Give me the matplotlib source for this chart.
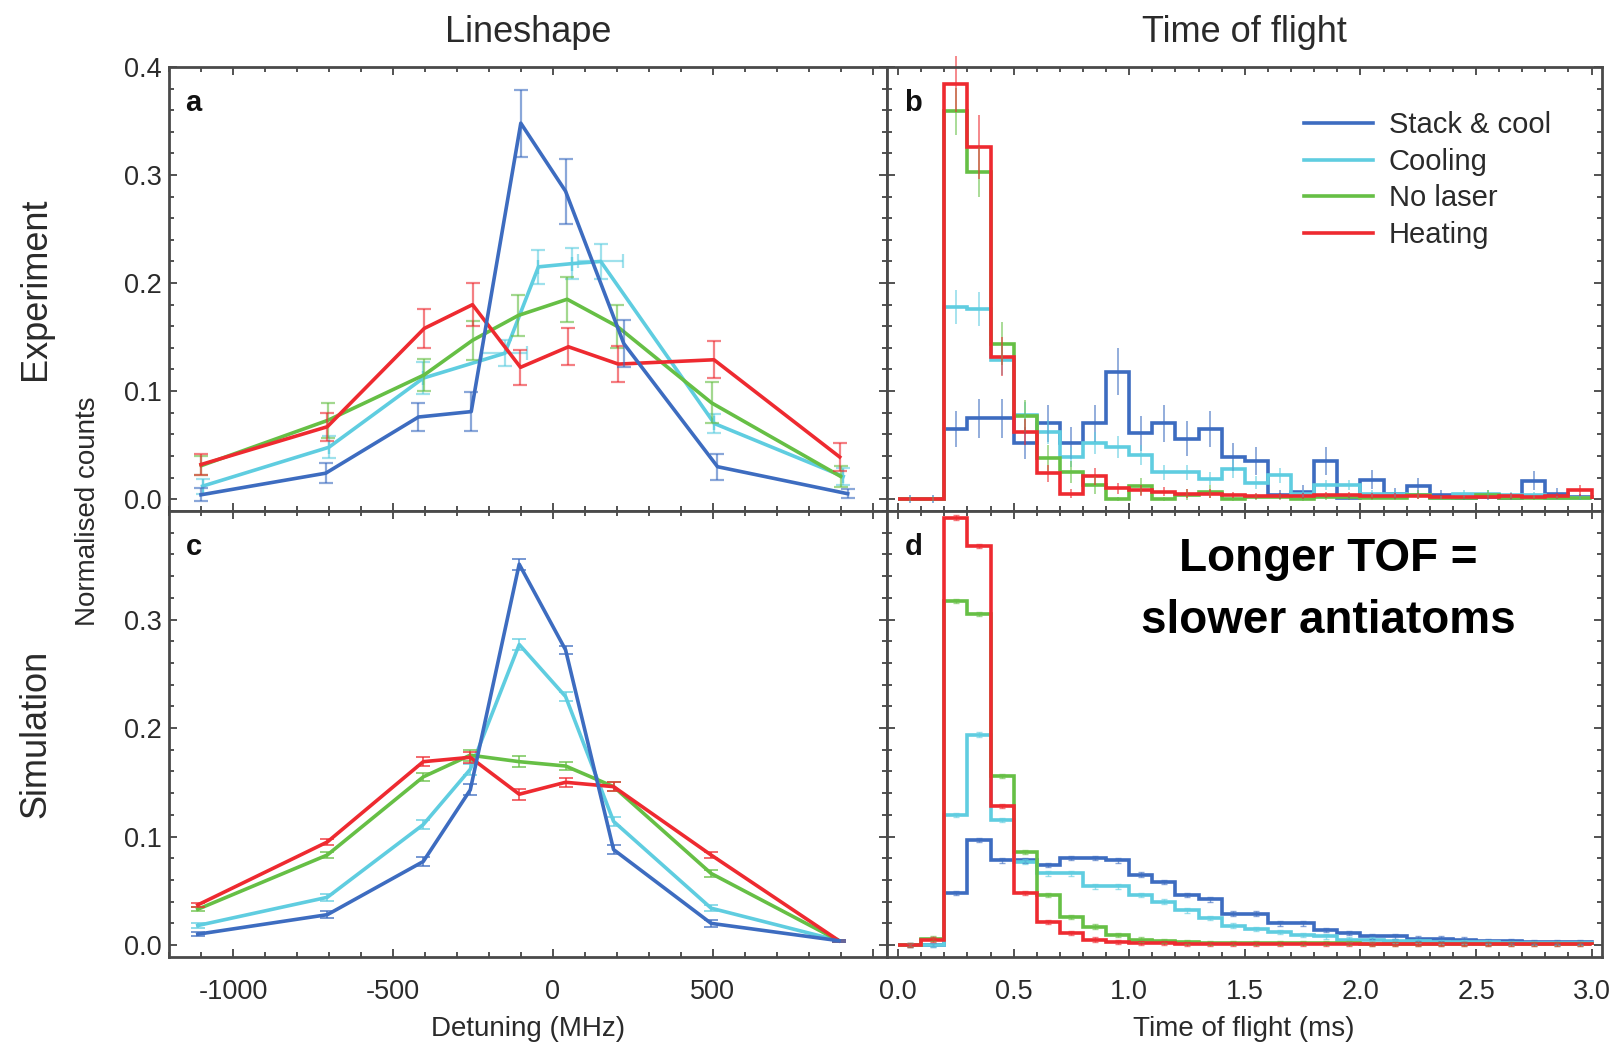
import numpy as np
import matplotlib
matplotlib.use('Agg')
import matplotlib.pyplot as plt
from matplotlib.ticker import MultipleLocator, FixedLocator

plt.rcParams['font.family'] = ['Liberation Sans', 'DejaVu Sans']
plt.rcParams['axes.unicode_minus'] = False

# colours of the four runs
C_BLUE = '#3d6cc0'
C_CYAN = '#5fcde0'
C_GREEN = '#66bf45'
C_RED = '#ee2a30'
C_TXT = '#2a2a2a'

LABELS = ['Stack & cool', 'Cooling', 'No laser', 'Heating']

# ---- lineshape, experiment (a) ----
A_X_BLUE = [-1100, -710, -420, -255, -100, 40, 222, 515, 922]
A_BLUE = [0.004, 0.024, 0.076, 0.081, 0.348, 0.285, 0.144, 0.030, 0.005]
A_BLUE_ERR = [0.006, 0.009, 0.013, 0.018, 0.031, 0.030, 0.022, 0.012, 0.004]

A_X_CYAN = [-1095, -700, -405, -150, -45, 60, 150, 505, 908]
A_CYAN = [0.012, 0.048, 0.112, 0.135, 0.215, 0.218, 0.220, 0.070, 0.021]
A_CYAN_ERR = [0.007, 0.010, 0.015, 0.012, 0.016, 0.014, 0.016, 0.009, 0.008]
A_CYAN_XERR = [0, 0, 0, 70, 0, 0, 70, 0, 0]

A_X_GREEN = [-1099, -703, -402, -251, -108, 45, 201, 497, 900]
A_GREEN = [0.031, 0.073, 0.115, 0.147, 0.170, 0.185, 0.160, 0.089, 0.021]
A_GREEN_ERR = [0.009, 0.016, 0.015, 0.018, 0.019, 0.021, 0.020, 0.019, 0.010]

A_X_RED = [-1100, -705, -402, -251, -101, 49, 205, 504, 897]
A_RED = [0.032, 0.067, 0.158, 0.180, 0.122, 0.141, 0.125, 0.129, 0.039]
A_RED_ERR = [0.010, 0.013, 0.018, 0.020, 0.016, 0.017, 0.017, 0.017, 0.013]

# ---- lineshape, simulation (c) ----
C_X = [-1110, -705, -405, -258, -105, 40, 190, 495, 895]
C_BLUE_V = [0.010, 0.028, 0.077, 0.143, 0.351, 0.272, 0.088, 0.020, 0.004]
C_CYAN_V = [0.018, 0.044, 0.111, 0.162, 0.277, 0.229, 0.114, 0.034, 0.004]
C_GREEN_V = [0.033, 0.083, 0.155, 0.175, 0.169, 0.165, 0.146, 0.066, 0.004]
C_RED_V = [0.037, 0.095, 0.169, 0.173, 0.139, 0.150, 0.146, 0.083, 0.004]
C_ERR = [0.002, 0.003, 0.004, 0.005, 0.005, 0.004, 0.004, 0.003, 0.001]

# ---- time of flight histograms (b: experiment, d: simulation) ----
TOF_EDGES = np.linspace(0.0, 3.0, 31)

B_BLUE = [0.000, 0.000, 0.065, 0.075, 0.075, 0.052, 0.070, 0.052, 0.070, 0.118,
          0.061, 0.070, 0.056, 0.065, 0.039, 0.035, 0.004, 0.007, 0.035, 0.001,
          0.018, 0.005, 0.012, 0.004, 0.001, 0.002, 0.001, 0.017, 0.005, 0.002]
B_BLUE_ERR = [0.004, 0.004, 0.017, 0.018, 0.018, 0.015, 0.017, 0.015, 0.017, 0.022,
              0.016, 0.017, 0.016, 0.017, 0.013, 0.013, 0.004, 0.006, 0.013, 0.002,
              0.009, 0.005, 0.008, 0.004, 0.002, 0.003, 0.002, 0.009, 0.005, 0.003]
B_CYAN = [0.000, 0.000, 0.178, 0.176, 0.129, 0.078, 0.062, 0.039, 0.052, 0.048,
          0.041, 0.025, 0.025, 0.019, 0.028, 0.015, 0.022, 0.005, 0.013, 0.013,
          0.005, 0.005, 0.004, 0.001, 0.005, 0.005, 0.004, 0.004, 0.001, 0.001]
B_CYAN_ERR = [0.003, 0.003, 0.016, 0.016, 0.014, 0.012, 0.011, 0.009, 0.010, 0.010,
              0.009, 0.007, 0.007, 0.006, 0.008, 0.006, 0.007, 0.003, 0.005, 0.005,
              0.003, 0.003, 0.003, 0.002, 0.003, 0.003, 0.003, 0.003, 0.002, 0.002]
B_GREEN = [0.000, 0.000, 0.359, 0.303, 0.144, 0.077, 0.038, 0.025, 0.013, 0.000,
           0.012, 0.000, 0.004, 0.007, 0.000, 0.002, 0.002, 0.000, 0.002, 0.002,
           0.001, 0.001, 0.004, 0.001, 0.001, 0.004, 0.001, 0.001, 0.001, 0.001]
B_GREEN_ERR = [0.002, 0.002, 0.022, 0.023, 0.020, 0.015, 0.012, 0.010, 0.008, 0.002,
               0.008, 0.002, 0.005, 0.006, 0.002, 0.003, 0.003, 0.002, 0.003, 0.003,
               0.002, 0.002, 0.004, 0.002, 0.002, 0.004, 0.002, 0.002, 0.002, 0.002]
B_RED = [0.000, 0.000, 0.384, 0.326, 0.132, 0.062, 0.024, 0.005, 0.021, 0.010,
         0.008, 0.007, 0.005, 0.005, 0.004, 0.003, 0.003, 0.003, 0.004, 0.004,
         0.003, 0.003, 0.003, 0.002, 0.002, 0.002, 0.003, 0.002, 0.003, 0.008]
B_RED_ERR = [0.002, 0.002, 0.026, 0.030, 0.018, 0.012, 0.008, 0.004, 0.008, 0.005,
             0.005, 0.004, 0.004, 0.004, 0.003, 0.003, 0.003, 0.003, 0.003, 0.003,
             0.003, 0.003, 0.003, 0.002, 0.002, 0.002, 0.003, 0.002, 0.003, 0.005]

D_BLUE = [0.000, 0.000, 0.048, 0.097, 0.078, 0.078, 0.074, 0.080, 0.080, 0.078,
          0.065, 0.058, 0.046, 0.042, 0.029, 0.029, 0.020, 0.020, 0.014, 0.011,
          0.008, 0.008, 0.006, 0.006, 0.005, 0.004, 0.004, 0.003, 0.003, 0.003]
D_CYAN = [0.000, 0.000, 0.120, 0.194, 0.115, 0.077, 0.066, 0.066, 0.054, 0.054,
          0.046, 0.040, 0.032, 0.025, 0.018, 0.015, 0.012, 0.009, 0.008, 0.005,
          0.005, 0.004, 0.004, 0.003, 0.003, 0.003, 0.002, 0.002, 0.002, 0.002]
D_GREEN = [0.000, 0.006, 0.317, 0.305, 0.156, 0.086, 0.046, 0.026, 0.017, 0.009,
           0.005, 0.004, 0.003, 0.002, 0.002, 0.002, 0.002, 0.002, 0.002, 0.002,
           0.001, 0.001, 0.001, 0.001, 0.001, 0.001, 0.001, 0.001, 0.001, 0.001]
D_RED = [0.000, 0.005, 0.394, 0.368, 0.128, 0.048, 0.021, 0.011, 0.005, 0.003,
         0.002, 0.002, 0.001, 0.001, 0.001, 0.001, 0.001, 0.001, 0.001, 0.001,
         0.001, 0.001, 0.001, 0.001, 0.001, 0.001, 0.001, 0.001, 0.001, 0.001]
D_ERR = 0.002

# ---- figure layout (pixel boxes converted to figure fractions) ----
W, H = 1615, 1043
fig = plt.figure(figsize=(W / 100, H / 100), dpi=100)


def box(x0, y0, x1, y1):
    return [x0 / W, 1 - y1 / H, (x1 - x0) / W, (y1 - y0) / H]


ax_a = fig.add_axes(box(169, 67, 887, 511))
ax_b = fig.add_axes(box(887, 67, 1602, 511))
ax_c = fig.add_axes(box(169, 511, 887, 957))
ax_d = fig.add_axes(box(887, 511, 1602, 957))

YLIM = (-0.011, 0.4)


def style(ax, kind, bottom_row, left_col):
    ax.set_ylim(*YLIM)
    if kind == 'ls':
        ax.set_xlim(-1200, 1045)
        ax.xaxis.set_major_locator(FixedLocator([-1000, -500, 0, 500, 1000]))
        ax.xaxis.set_minor_locator(MultipleLocator(100))
        ax.set_xticklabels(['-1000', '-500', '0', '500', ''])
    else:
        ax.set_xlim(-0.048, 3.045)
        ax.xaxis.set_major_locator(MultipleLocator(0.5))
        ax.xaxis.set_minor_locator(MultipleLocator(0.1))
        ax.xaxis.set_major_formatter(plt.FormatStrFormatter('%.1f'))
    if bottom_row:
        ax.yaxis.set_major_locator(FixedLocator([0.0, 0.1, 0.2, 0.3]))
    else:
        ax.yaxis.set_major_locator(FixedLocator([0.0, 0.1, 0.2, 0.3, 0.4]))
    ax.yaxis.set_minor_locator(MultipleLocator(0.02))
    ax.yaxis.set_major_formatter(plt.FormatStrFormatter('%.1f'))
    ax.tick_params(which='both', direction='in', top=True, right=True,
                   colors='#444444', labelcolor=C_TXT, labelsize=19.5, width=1.3)
    ax.tick_params(which='major', length=6)
    ax.tick_params(which='minor', length=3.5)
    ax.tick_params(axis='x', pad=16)
    ax.tick_params(axis='y', pad=5)
    if not bottom_row:
        ax.tick_params(axis='x', labelbottom=False)
    if not left_col:
        ax.tick_params(axis='y', labelleft=False)
    for sp in ax.spines.values():
        sp.set_color('#4a4a4a')
        sp.set_linewidth(2.0)


style(ax_a, 'ls', False, True)
style(ax_b, 'tof', False, False)
style(ax_c, 'ls', True, True)
style(ax_d, 'tof', True, False)

# panel a: measured lineshapes with error bars
series_a = [
    (A_X_CYAN, A_CYAN, A_CYAN_ERR, A_CYAN_XERR, C_CYAN),
    (A_X_GREEN, A_GREEN, A_GREEN_ERR, None, C_GREEN),
    (A_X_RED, A_RED, A_RED_ERR, None, C_RED),
    (A_X_BLUE, A_BLUE, A_BLUE_ERR, None, C_BLUE),
]
for xs, ys, yerr, xerr, col in series_a:
    ax_a.errorbar(xs, ys, yerr=yerr, xerr=xerr, fmt='none', ecolor=col,
                  elinewidth=1.6, capsize=5, capthick=1.6, alpha=0.6)
    ax_a.plot(xs, ys, color=col, lw=2.6)

# panel c: simulated lineshapes
for ys, col in [(C_CYAN_V, C_CYAN), (C_GREEN_V, C_GREEN),
                (C_RED_V, C_RED), (C_BLUE_V, C_BLUE)]:
    ax_c.errorbar(C_X, ys, yerr=C_ERR, fmt='none', ecolor=col,
                  elinewidth=1.4, capsize=5, capthick=1.4, alpha=0.7)
    ax_c.plot(C_X, ys, color=col, lw=2.6)

# panel b: measured time of flight
centres = 0.5 * (TOF_EDGES[:-1] + TOF_EDGES[1:])
series_b = [
    (B_BLUE, B_BLUE_ERR, C_BLUE),
    (B_CYAN, B_CYAN_ERR, C_CYAN),
    (B_GREEN, B_GREEN_ERR, C_GREEN),
    (B_RED, B_RED_ERR, C_RED),
]
for (vals, err, col), lab in zip(series_b, LABELS):
    ax_b.stairs(vals, TOF_EDGES, color=col, lw=2.6, label=lab)
    eb = ax_b.errorbar(centres, vals, yerr=err, fmt='none', ecolor=col,
                       elinewidth=1.3, alpha=0.6)
    for ln in eb.lines[2]:
        ln.set_clip_on(False)

# panel d: simulated time of flight
for vals, col in [(D_BLUE, C_BLUE), (D_CYAN, C_CYAN),
                  (D_GREEN, C_GREEN), (D_RED, C_RED)]:
    ax_d.stairs(vals, TOF_EDGES, color=col, lw=2.6)
    ax_d.errorbar(centres, vals, yerr=D_ERR, fmt='none', ecolor=col,
                  elinewidth=1.0, capsize=2.5, alpha=0.6)

ax_b.legend(loc='upper left', bbox_to_anchor=(1304 / W, 1 - 111 / H),
            bbox_transform=fig.transFigure, frameon=False, fontsize=21,
            handlelength=2.35, handletextpad=0.55, labelspacing=0.3,
            borderpad=0, borderaxespad=0, labelcolor=C_TXT)

# panel letters
for ax, letter, (px, py) in [(ax_a, 'a', (193, 103)), (ax_b, 'b', (913, 103)),
                             (ax_c, 'c', (194, 547)), (ax_d, 'd', (914, 547))]:
    fig.text(px / W, 1 - py / H, letter, fontsize=21, fontweight='bold',
             ha='center', va='center', color='#111111')

# column titles, row labels, axis labels
fig.text(528 / W, 1 - 33 / H, 'Lineshape', fontsize=26, ha='center', va='center', color=C_TXT)
fig.text(1244 / W, 1 - 33 / H, 'Time of flight', fontsize=26, ha='center', va='center', color=C_TXT)
fig.text(36 / W, 1 - 289 / H, 'Experiment', fontsize=26, rotation=90, ha='center', va='center', color=C_TXT)
fig.text(36 / W, 1 - 734 / H, 'Simulation', fontsize=26, rotation=90, ha='center', va='center', color=C_TXT)
fig.text(88 / W, 1 - 511 / H, 'Normalised counts', fontsize=20, rotation=90, ha='center', va='center', color=C_TXT)
fig.text(528 / W, 1 - 1029 / H, 'Detuning (MHz)', fontsize=20, ha='center', va='center', color=C_TXT)
fig.text(1244 / W, 1 - 1029 / H, 'Time of flight (ms)', fontsize=20, ha='center', va='center', color=C_TXT)

# annotation in panel d
fig.text(1328 / W, 1 - 559 / H, 'Longer TOF =', fontsize=33, fontweight='bold',
         ha='center', va='center', color='black')
fig.text(1328 / W, 1 - 621 / H, 'slower antiatoms', fontsize=33, fontweight='bold',
         ha='center', va='center', color='black')

fig.savefig('out.png', dpi=100, facecolor='white')
